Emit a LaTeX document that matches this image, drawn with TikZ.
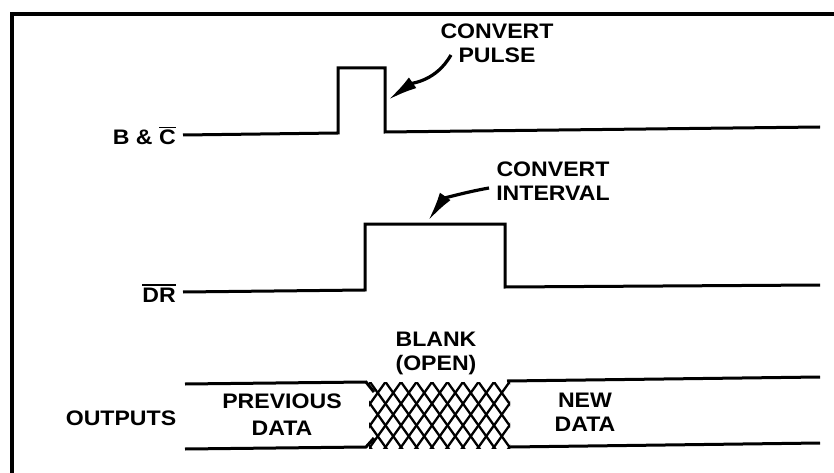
\documentclass[tikz,border=0pt]{standalone}
\usepackage{fontspec}
\newfontfamily\sigfont[FakeStretch=1.1]{Liberation Sans}
\usetikzlibrary{arrows.meta,positioning}
\newcommand\barred[1]{\vbox{\hrule height 1.8pt\kern 2pt\hbox{#1}}}

\begin{document}
\begin{tikzpicture}[x=1pt,y=-1pt,>=Latex,
  sig/.style={line width=3pt,line join=miter},
  lbl/.style={font=\sigfont\bfseries\fontsize{21}{24}\selectfont,inner sep=0pt,align=center},
  callout/.style={line width=3.2pt,-{Latex[length=30pt,width=13pt]}},
  mesh/.style={line width=2.3pt}]
\useasboundingbox (0,0) rectangle (834,473);
\draw[line width=3.5pt] (12,473) -- (12,14) -- (834,14);
% signals
\node[lbl,anchor=base east] (bclbl) at (176,145) {B \& \barred{C}};
\node[lbl,anchor=base east] (drlbl) at (176,302) {\barred{DR}};
\node[lbl,anchor=base] (outlbl) at (121,425) {OUTPUTS};
\draw[sig] (183,135) -- (338,133) -- (338,68) -- (385,68) -- (385,132) -- (820,127);
\draw[sig] (183,292) -- (365,290) -- (365,224) -- (505,224) -- (505,287) -- (820,285);
% callouts
\node[lbl] (pulselbl) at (497,43) {CONVERT\\PULSE};
\node[lbl] (intvlbl) at (553,181) {CONVERT\\INTERVAL};
\coordinate (pulsetail) at (451,55);
\coordinate (pulsetip) at (388,100);
\coordinate (intvtail) at (489,188);
\coordinate (intvtip) at (428,221);
\draw[callout] (pulsetail) to[out=240,in=35] (pulsetip);
\draw[callout] (intvtail) to[out=190,in=55] (intvtip);
% outputs
\node[lbl] (blanklbl) at (436,353) {BLANK\\(OPEN)};
\node[lbl] (prevlbl) at (282,415) {PREVIOUS\\[3pt]DATA};
\node[lbl] (newlbl) at (585,412) {NEW\\DATA};
\draw[sig] (185,384) -- (366,382) -- (374,392);
\draw[sig] (185,449) -- (366,447) -- (374,438);
\draw[sig] (507,381) -- (820,377);
\draw[sig] (510,447) -- (820,443);
\begin{scope}
\clip (369,382) rectangle (510,448);
\foreach \k in {-4,...,13} {
  \draw[mesh] (370+\k*15.5-50,312) -- (370+\k*15.5+100,522);
  \draw[mesh] (370+\k*15.5-50,452) -- (370+\k*15.5+100,242);
}
\end{scope}
\end{tikzpicture}
\end{document}
